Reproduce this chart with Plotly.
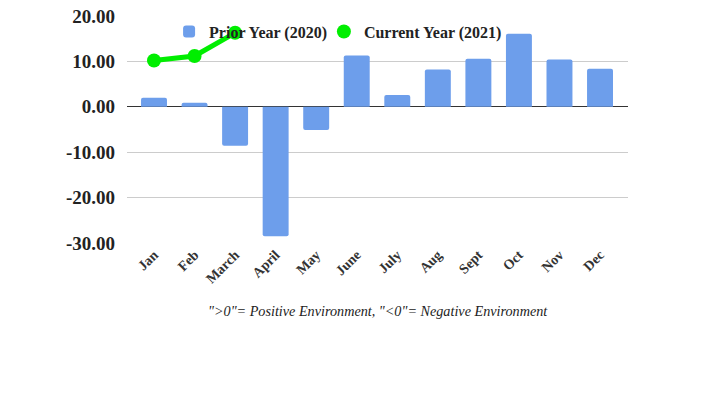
import plotly.graph_objects as go

months = ["Jan", "Feb", "March", "April", "May", "June", "July", "Aug", "Sept", "Oct", "Nov", "Dec"]
prior_year = [2.0, 0.9, -8.6, -28.5, -5.1, 11.3, 2.6, 8.2, 10.6, 16.1, 10.4, 8.4]
current_months = ["Jan", "Feb", "March"]
current_year = [10.2, 11.2, 16.3]
y_ticks = [-30, -20, -10, 0, 10, 20]
y_tick_text = ["-30.00", "-20.00", "-10.00", "0.00", "10.00", "20.00"]

BLUE = "#6d9eeb"
GREEN = "#00ee00"
SERIF = "Liberation Serif"
LEG_FONT = dict(size=16, family=SERIF, weight="bold", color="#222222")

fig = go.Figure()
fig.add_trace(go.Bar(
    x=months, y=prior_year, name="Prior Year (2020)", legend="legend",
    marker=dict(color=BLUE, cornerradius=2, line=dict(width=0)),
))
fig.add_trace(go.Scatter(
    x=current_months, y=current_year, name="Current Year (2021)",
    mode="lines+markers", showlegend=False,
    line=dict(color=GREEN, width=5),
    marker=dict(color=GREEN, size=14),
))
fig.add_trace(go.Scatter(
    x=[None], y=[None], name="Current Year (2021)", mode="markers", legend="legend2",
    marker=dict(color=GREEN, size=14),
))

fig.update_layout(
    width=711, height=399,
    margin=dict(l=127, r=83, t=16, b=156, autoexpand=False),
    paper_bgcolor="white", plot_bgcolor="white",
    bargap=0.36,
    font=dict(family=SERIF, color="#222222"),
    showlegend=True,
    legend=dict(
        orientation="h", x=0.084, xanchor="left", y=0.931, yanchor="middle",
        bgcolor="rgba(0,0,0,0)", font=LEG_FONT, itemclick=False,
    ),
    legend2=dict(
        orientation="h", x=0.393, xanchor="left", y=0.931, yanchor="middle",
        bgcolor="rgba(0,0,0,0)", font=LEG_FONT, itemclick=False,
    ),
    xaxis=dict(
        categoryorder="array", categoryarray=months, automargin=False,
        range=[-0.666, 11.69], tickangle=-45, showgrid=False,
        tickfont=dict(size=14, family=SERIF, weight="bold", color="#333333"),
        showline=False, ticks="",
    ),
    yaxis=dict(
        range=[-30, 20], tickvals=y_ticks, ticktext=y_tick_text, automargin=False,
        gridcolor="#cccccc", gridwidth=1,
        zeroline=True, zerolinecolor="#333333", zerolinewidth=1,
        tickfont=dict(size=19, family=SERIF, weight="bold", color="#222222"),
        ticks="", ticklabelstandoff=11,
    ),
    annotations=[dict(
        text="\">0\"= Positive Environment, \"<0\"= Negative Environment",
        xref="paper", yref="paper", x=0.5, y=-0.2996, xanchor="center", yanchor="middle",
        showarrow=False, font=dict(size=14.2, family=SERIF, style="italic", color="#222222"),
    )],
)

fig.write_html("out.html", config={"displayModeBar": False},
               post_script="document.body.style.margin='0';")
